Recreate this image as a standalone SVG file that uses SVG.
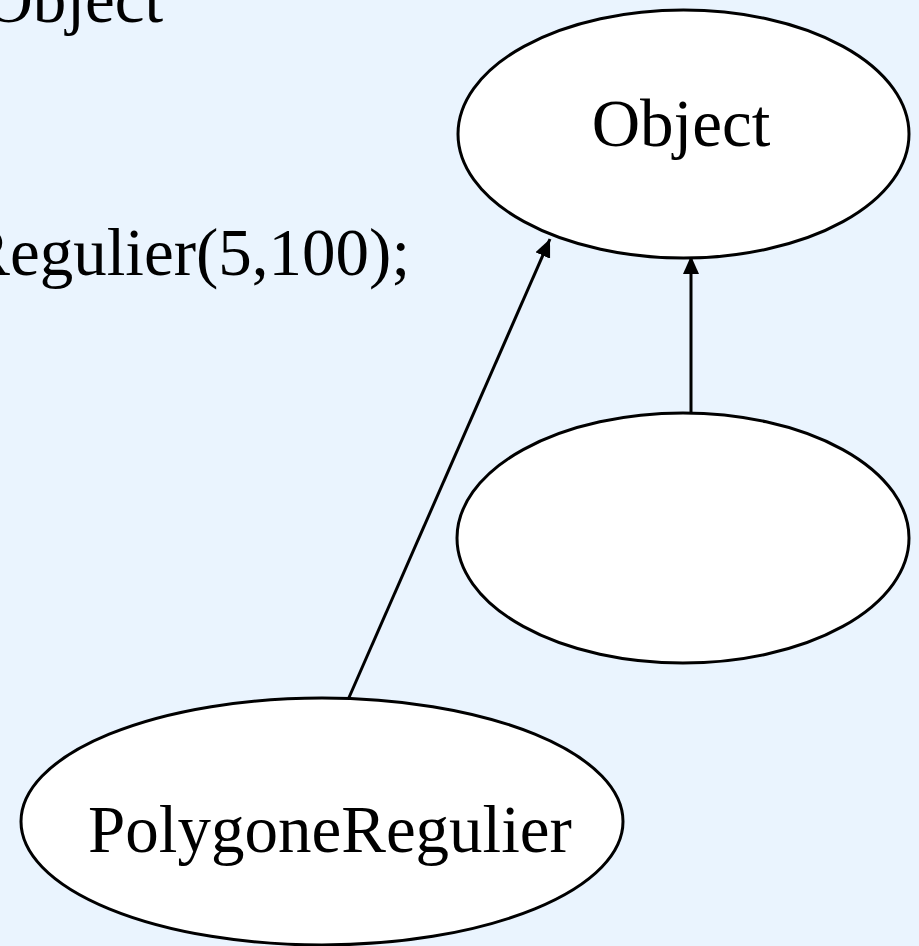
<svg xmlns="http://www.w3.org/2000/svg" width="919" height="946" viewBox="0 0 919 946">
<style>
.bg{fill:#EAF4FE}
.node{fill:#FFFFFF;stroke:#000;stroke-width:3}
.t{font-family:"Liberation Serif","Times New Roman",serif;font-size:67px;fill:#000}
.edge{stroke:#000;stroke-width:3;fill:none;marker-end:url(#arr)}
</style>
<defs>
<marker id="arr" markerUnits="userSpaceOnUse" markerWidth="18" markerHeight="16" viewBox="0 0 18 16" refX="18" refY="8" orient="auto">
<path d="M0,0 L18,8 L0,16 Z" fill="#000"/>
</marker>
</defs>
<rect class="bg" x="0" y="0" width="919" height="946"/>
<g id="code">
<text class="t" x="163" y="22" text-anchor="end">Object</text>
<text class="t" x="410" y="275" text-anchor="end">Regulier(5,100);</text>
</g>
<g id="connectors">
<line class="edge" x1="691" y1="418" x2="691" y2="256"/>
<line class="edge" x1="347" y1="702" x2="550" y2="239"/>
</g>
<g id="node-object">
<ellipse class="node" cx="683.5" cy="134" rx="225.5" ry="124"/>
<text class="t" x="681" y="146" text-anchor="middle">Object</text>
</g>
<g id="node-middle">
<ellipse class="node" cx="683" cy="538" rx="226" ry="125"/>
</g>
<g id="node-polygone">
<ellipse class="node" cx="322" cy="821.5" rx="301" ry="123.5"/>
<text class="t" x="330" y="852" text-anchor="middle">PolygoneRegulier</text>
</g>
</svg>
